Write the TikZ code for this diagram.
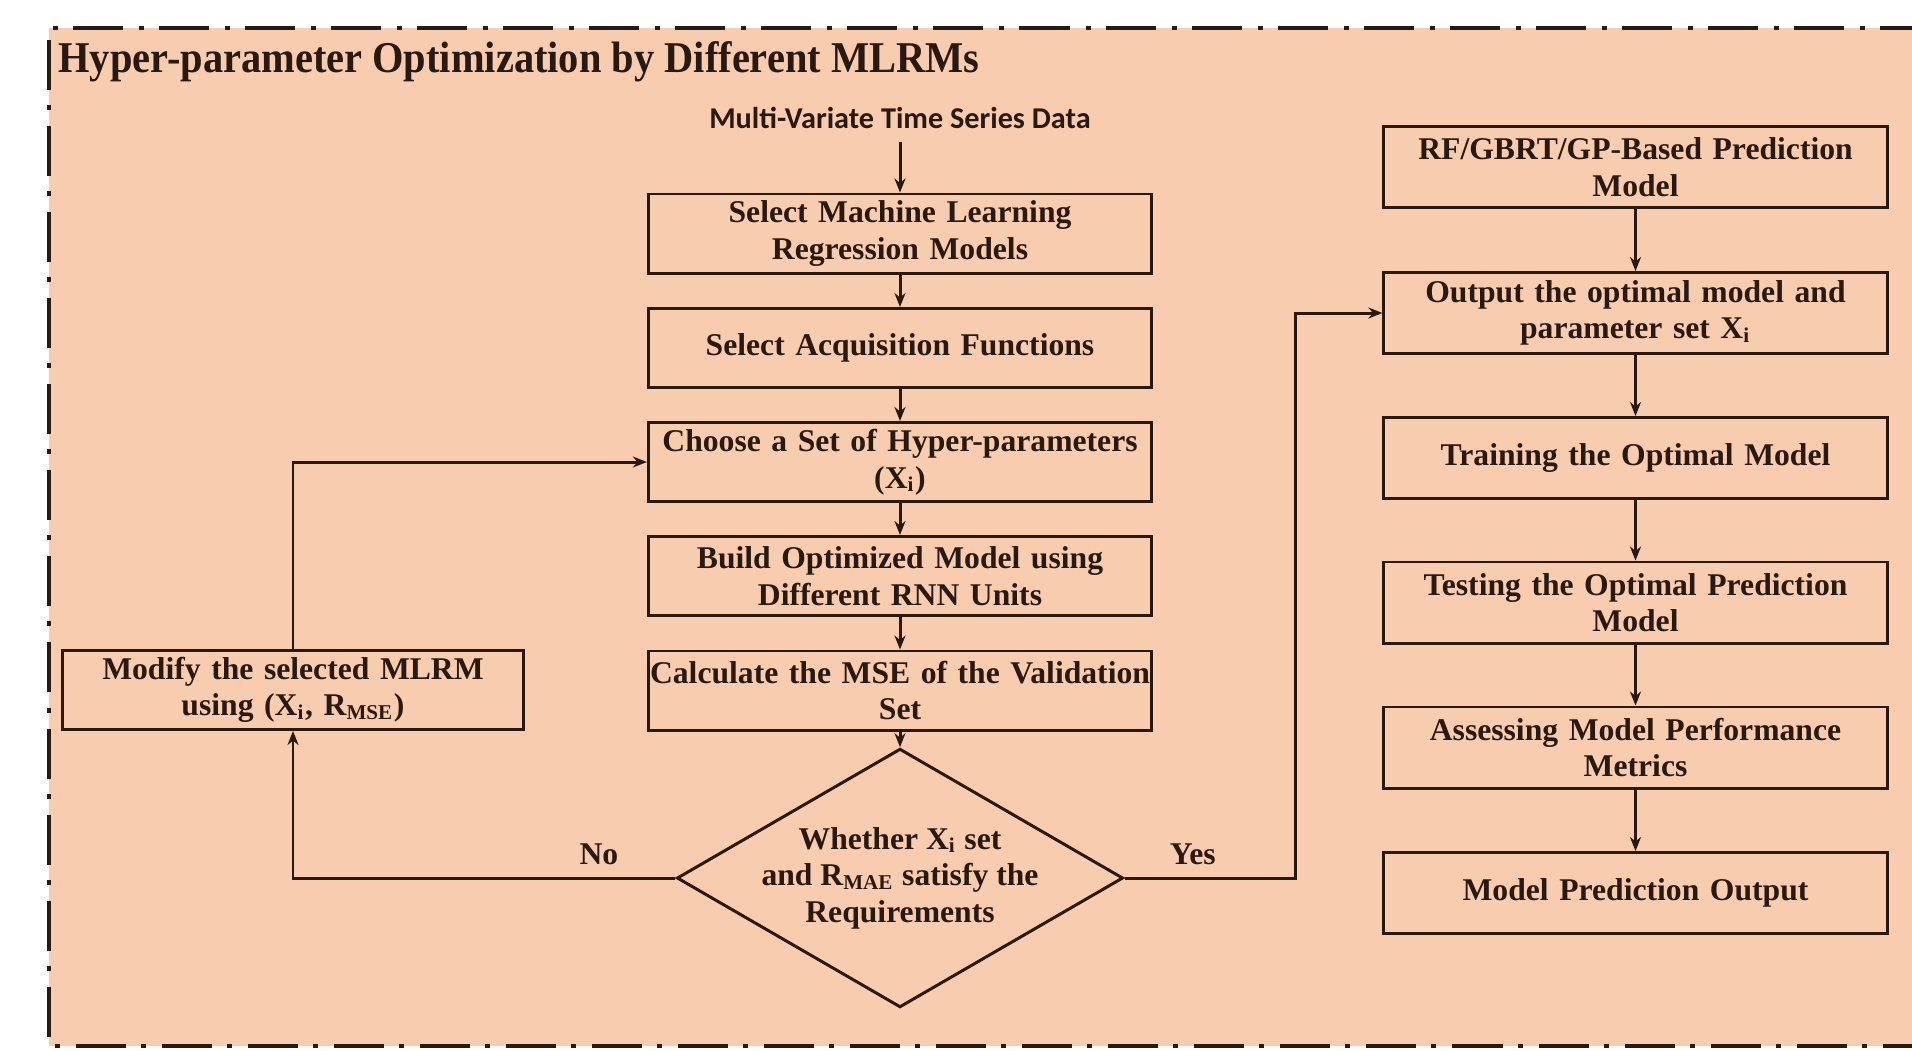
\documentclass[tikz,border=0pt]{standalone}
\usepackage{fontspec}
\setmainfont{Liberation Serif}
\newfontfamily\datafont{Carlito}
\newfontfamily\titlefont[FakeStretch=0.92]{Liberation Serif}
\usetikzlibrary{shapes.geometric,arrows.meta}

\definecolor{peach}{RGB}{248,204,174}
\definecolor{ink}{RGB}{40,26,18}
\newcommand\flowfont{\fontsize{9}{10.4}\selectfont\bfseries}

\begin{document}
\begin{tikzpicture}[x=0.01cm, y=-0.01cm, line width=0.85pt, color=ink,
    box/.style={draw, rectangle, minimum width=5.03cm, minimum height=0.79cm,
      text width=4.97cm, inner sep=0pt, align=center, font=\flowfont},
    rbox/.style={box, minimum height=0.81cm},
    decision/.style={draw, diamond, minimum width=4.46cm, minimum height=2.06cm,
      inner sep=-0.3cm, align=center, font=\flowfont},
    flow/.style={-{Stealth[length=1.4mm,width=1.1mm]}},
    lbl/.style={font=\flowfont},
    frame/.style={line width=1.1pt, dash pattern=on 0.5cm off 0.15cm on 0.05cm off 0.16cm}]

    % page and background panel
    \useasboundingbox (0,0) rectangle (1912,1050);
    \fill[peach] (49,28) rectangle (1912,1046);
    \draw[frame] (1930,28) -- (49,28) -- (49,1046) -- (1930,1046);

    % panel title
    \node[anchor=base west, inner sep=0pt, font=\titlefont\fontsize{12.5}{14}\selectfont\bfseries]
      (title) at (57,72) {Hyper-parameter Optimization by Different MLRMs};

    % input data
    \node[font=\datafont\fontsize{8.6}{10}\selectfont\bfseries] (data) at (900,118)
      {Multi-Variate Time Series Data};

    % optimization loop (middle column)
    \node[box] (mlrm) at (900,233.5) {Select Machine Learning\\Regression Models};
    \node[box] (acq) at (900,348) {Select Acquisition Functions};
    \node[box] (hyper) at (900,462) {Choose a Set of Hyper-parameters\\(X\textsubscript{i})};
    \node[box] (build) at (900,576) {Build Optimized Model using\\Different RNN Units};
    \node[box, text width=5.25cm, inner xsep=-0.11cm] (mse) at (900,690.5)
      {Calculate the MSE of the Validation\\Set};
    \node[decision] (check) at (900,878)
      {Whether X\textsubscript{i} set\\and R\textsubscript{MAE} satisfy the\\Requirements};

    % feedback box
    \node[box, minimum width=4.6cm, text width=4.5cm] (modify) at (293,690)
      {Modify the selected MLRM\\using (X\textsubscript{i}, R\textsubscript{MSE})};

    % final model (right column)
    \node[rbox] (base) at (1635.5,167) {RF/GBRT/GP-Based Prediction\\Model};
    \node[rbox] (optimal) at (1635.5,313) {Output the optimal model and\\parameter set X\textsubscript{i}};
    \node[rbox] (train) at (1635.5,458) {Training the Optimal Model};
    \node[rbox] (test) at (1635.5,602.5) {Testing the Optimal Prediction\\Model};
    \node[rbox] (assess) at (1635.5,747.5) {Assessing Model Performance\\Metrics};
    \node[rbox] (output) at (1635.5,893) {Model Prediction Output};

    \coordinate (turn) at (1295,313);

    % connectors
    \draw[flow] (data) -- (mlrm);
    \draw[flow] (mlrm) -- (acq);
    \draw[flow] (acq) -- (hyper);
    \draw[flow] (hyper) -- (build);
    \draw[flow] (build) -- (mse);
    \draw[flow] (mse) -- (check);
    \draw[flow] (check.west) -| node[lbl, pos=0.1, above] {No} (modify.south);
    \draw[flow] (modify.north) |- (hyper.west);
    \draw[flow] (check.east) -| node[lbl, pos=0.2, above] {Yes} (turn) -- (optimal.west);

    \draw[flow] (base) -- (optimal);
    \draw[flow] (optimal) -- (train);
    \draw[flow] (train) -- (test);
    \draw[flow] (test) -- (assess);
    \draw[flow] (assess) -- (output);
\end{tikzpicture}
\end{document}
